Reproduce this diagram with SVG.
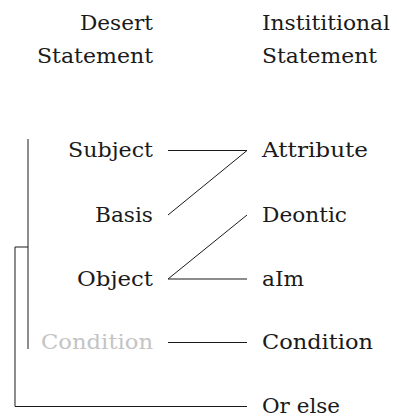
<svg xmlns="http://www.w3.org/2000/svg" width="397" height="418" viewBox="0 0 397 418">
<style>
text{font-family:"DejaVu Serif","Liberation Serif",serif;font-size:21px;fill:#1a1a1a}
.r{text-anchor:end}
.g{fill:#c4c4c4}
.c line,.c polyline{stroke:#1a1a1a;stroke-width:1;fill:none}
</style>
<rect width="397" height="418" fill="#fff"/>
<g id="head-desert"><text class="r" x="153" y="30" textLength="73" lengthAdjust="spacingAndGlyphs">Desert</text><text class="r" x="153" y="63" textLength="116" lengthAdjust="spacingAndGlyphs">Statement</text></g>
<g id="head-inst"><text x="262" y="30" textLength="128" lengthAdjust="spacingAndGlyphs">Instititional</text><text x="262" y="63" textLength="115" lengthAdjust="spacingAndGlyphs">Statement</text></g>
<g id="n-subject"><text class="r" x="153" y="157" textLength="85" lengthAdjust="spacingAndGlyphs">Subject</text></g>
<g id="n-basis"><text class="r" x="153" y="221.5" textLength="58" lengthAdjust="spacingAndGlyphs">Basis</text></g>
<g id="n-object"><text class="r" x="153" y="285.5" textLength="76" lengthAdjust="spacingAndGlyphs">Object</text></g>
<g id="n-condition-l"><text class="r g" x="153" y="349" textLength="112" lengthAdjust="spacingAndGlyphs">Condition</text></g>
<g id="n-attribute"><text x="262" y="157" textLength="106" lengthAdjust="spacingAndGlyphs">Attribute</text></g>
<g id="n-deontic"><text x="262" y="221.5" textLength="85" lengthAdjust="spacingAndGlyphs">Deontic</text></g>
<g id="n-aim"><text x="262" y="285.5" textLength="42" lengthAdjust="spacingAndGlyphs">aIm</text></g>
<g id="n-condition-r"><text x="262" y="349" textLength="111" lengthAdjust="spacingAndGlyphs">Condition</text></g>
<g id="n-orelse"><text x="262" y="413" textLength="78" lengthAdjust="spacingAndGlyphs">Or else</text></g>
<g id="connectors" class="c">
<polyline points="168,150.5 247,150.5 168,215"/>
<polyline points="247,215 168,279 247,279"/>
<line x1="168" y1="342.5" x2="247" y2="342.5"/>
<line x1="28" y1="139" x2="28" y2="349"/>
<polyline points="28,247 15,247 15,406.5 247,406.5"/>
</g>
</svg>
